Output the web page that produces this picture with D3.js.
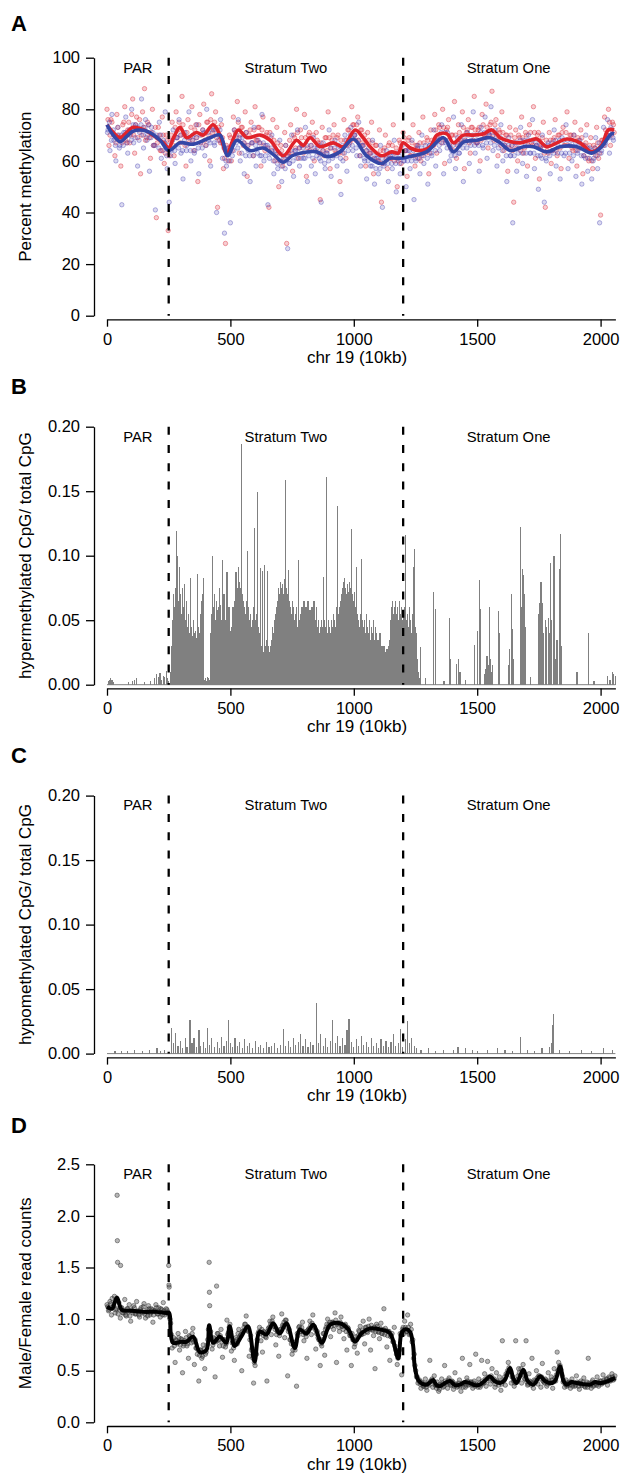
<!DOCTYPE html>
<html><head><meta charset="utf-8">
<script src="https://cdn.jsdelivr.net/npm/d3@7"></script>
<style>body{margin:0;background:#fff}svg{display:block}text{font-family:"Liberation Sans",Arial,sans-serif}</style>
</head><body><svg id="c" width="622" height="1475"></svg>
<script>
// ---------- shared ----------
const xTicks=[0,500,1000,1500,2000];
const boundaries=[250,1200];
const regionNames=["PAR","Stratum Two","Stratum One"];
const regionBounds=[[0,250],[250,1200],[1200,2055]];
const xLabel="chr 19 (10kb)";
const panelLetters=["A","B","C","D"];
const yLabels=["Percent methylation","hypermethylated CpG/ total CpG","hypomethylated CpG/ total CpG","Male/Female read counts"];
const yTicksA=[0,20,40,60,80,100];
const yTicksBC=[0,0.05,0.1,0.15,0.2];
const yTicksD=[0,0.5,1,1.5,2,2.5];

// ---------- panel A ----------
const redLine=[[0,74],[25,71],[53,69],[80,71],[105,73],[150,72],[200,69],[229,67],[250,65],[270,69],[296,73],[323,69],[363,71],[390,70],[430,74],[458,70],[485,63],[532,72],[567,69],[621,70],[661,68],[714,62],[768,68],[795,66],[823,69],[863,65.5],[917,67],[957,65.5],[1005,72],[1038,69],[1066,65.5],[1113,62],[1154,63.5],[1180,63],[1200,67],[1229,65],[1268,64],[1310,65.5],[1337,70],[1377,70.5],[1404,67],[1444,70],[1485,70],[1526,70.5],[1559,72],[1593,69],[1634,67.5],[1674,67],[1714,68],[1742,68.5],[1782,65.5],[1823,67],[1863,68.5],[1917,67],[1964,63.5],[2004,66],[2031,72],[2055,72]];
const blueLine=[[0,74],[25,70],[53,67.5],[80,69.5],[105,71.5],[162,71.5],[215,68],[250,64],[296,67],[350,66.5],[417,69],[458,70],[489,62],[526,68],[579,64],[633,65],[680,62],[714,59.5],[750,62],[782,63],[850,63.5],[890,61.6],[944,63.5],[998,68.5],[1052,62],[1113,59],[1146,61],[1187,61],[1241,62],[1295,63.5],[1363,69],[1404,63.5],[1444,67.3],[1498,68],[1552,69],[1593,67],[1634,64],[1688,65.5],[1728,65.5],[1782,63.5],[1836,65.5],[1904,65.5],[1964,63],[2004,65.5],[2044,70.5],[2055,70.5]];
const redPoints=[[0,80],[8,66],[16,76],[24,71],[32,62],[40,78],[48,70],[56,58],[64,74],[72,81],[80,67],[88,75],[96,70],[104,84],[112,63],[120,77],[128,72],[136,55],[144,79],[152,88],[160,69],[168,74],[176,61],[184,80],[192,66],[200,38],[208,73],[216,64],[224,77],[232,59],[240,70],[248,33],[256,68],[264,75],[272,62],[280,79],[288,72],[296,67],[304,85],[312,70],[320,58],[328,76],[336,69],[344,81],[352,64],[360,74],[368,52],[376,78],[384,70],[392,82],[400,66],[408,75],[416,60],[424,86],[432,72],[440,79],[448,42],[456,68],[464,74],[472,57],[480,28],[488,65],[496,70],[504,60],[512,77],[520,71],[528,83],[536,63],[544,73],[552,66],[560,79],[568,54],[576,70],[584,75],[592,62],[600,81],[608,68],[616,73],[624,58],[632,77],[640,64],[648,71],[656,42],[664,69],[672,76],[680,60],[688,73],[696,50],[704,66],[712,58],[720,71],[728,28],[736,63],[744,74],[752,56],[760,69],[768,80],[776,61],[784,72],[792,66],[800,78],[808,54],[816,70],[824,64],[832,75],[840,60],[848,71],[856,67],[864,45],[872,73],[880,62],[888,69],[896,79],[904,57],[912,68],[920,74],[928,63],[936,70],[944,52],[952,65],[960,76],[968,61],[976,72],[984,67],[992,81],[1000,74],[1008,68],[1016,77],[1024,62],[1032,72],[1040,66],[1048,58],[1056,71],[1064,63],[1072,75],[1080,55],[1088,66],[1096,60],[1104,72],[1112,44],[1120,64],[1128,70],[1136,57],[1144,67],[1152,61],[1160,74],[1168,63],[1176,50],[1184,68],[1192,59],[1200,71],[1208,64],[1216,54],[1224,69],[1232,62],[1240,74],[1248,58],[1256,66],[1264,71],[1272,60],[1280,77],[1288,64],[1296,69],[1304,55],[1312,72],[1320,66],[1328,78],[1336,63],[1344,74],[1352,69],[1360,80],[1368,59],[1376,72],[1384,76],[1392,65],[1400,70],[1408,83],[1416,61],[1424,74],[1432,68],[1440,79],[1448,57],[1456,71],[1464,76],[1472,63],[1480,73],[1488,85],[1496,67],[1504,72],[1512,60],[1520,78],[1528,70],[1536,82],[1544,65],[1552,74],[1560,87],[1568,68],[1576,76],[1584,62],[1592,71],[1600,79],[1608,64],[1616,70],[1624,56],[1632,73],[1640,66],[1648,44],[1656,72],[1664,60],[1672,69],[1680,77],[1688,63],[1696,71],[1704,58],[1712,74],[1720,67],[1728,81],[1736,61],[1744,70],[1752,53],[1760,66],[1768,75],[1776,42],[1784,64],[1792,71],[1800,59],[1808,68],[1816,76],[1824,62],[1832,70],[1840,57],[1848,73],[1856,66],[1864,79],[1872,61],[1880,70],[1888,64],[1896,75],[1904,58],[1912,68],[1920,72],[1928,55],[1936,66],[1944,74],[1952,60],[1960,69],[1968,57],[1976,65],[1984,73],[1992,61],[2000,39],[2008,68],[2016,77],[2024,70],[2032,80],[2040,66],[2048,75],[2055,71]];
const redCore=[[4,76],[12,70],[20,75],[28,70],[36,67],[44,73],[52,69],[60,67],[68,75],[76,68],[84,72],[92,67],[100,78],[108,70],[116,74],[124,69],[132,76],[140,70],[148,73],[156,68],[164,75],[172,69],[180,71],[188,66],[196,73],[204,67],[212,70],[220,64],[228,70],[236,63],[244,68],[252,62],[260,70],[268,66],[276,73],[284,69],[292,75],[300,70],[308,74],[316,66],[324,71],[332,67],[340,73],[348,68],[356,72],[364,69],[372,74],[380,67],[388,72],[396,68],[404,75],[412,70],[420,76],[428,71],[436,75],[444,69],[452,73],[460,67],[468,69],[476,61],[484,66],[492,60],[500,69],[508,64],[516,72],[524,69],[532,75],[540,70],[548,73],[556,67],[564,71],[572,66],[580,72],[588,67],[596,72],[604,68],[612,73],[620,67],[628,72],[636,66],[644,70],[652,65],[660,71],[668,64],[676,68],[684,62],[692,67],[700,60],[708,64],[716,60],[724,66],[732,62],[740,68],[748,63],[756,70],[764,65],[772,71],[780,65],[788,69],[796,63],[804,69],[812,65],[820,71],[828,66],[836,70],[844,64],[852,68],[860,63],[868,67],[876,64],[884,69],[892,64],[900,69],[908,65],[916,70],[924,64],[932,69],[940,63],[948,68],[956,63],[964,68],[972,66],[980,72],[988,68],[996,74],[1004,70],[1012,74],[1020,68],[1028,72],[1036,67],[1044,70],[1052,64],[1060,68],[1068,63],[1076,67],[1084,61],[1092,66],[1100,60],[1108,64],[1116,59],[1124,65],[1132,61],[1140,66],[1148,61],[1156,66],[1164,60],[1172,65],[1180,60],[1188,67],[1196,64],[1204,69],[1212,64],[1220,68],[1228,62],[1236,67],[1244,62],[1252,66],[1260,61],[1268,67],[1276,62],[1284,67],[1292,63],[1300,68],[1308,63],[1316,68],[1324,66],[1332,72],[1340,68],[1348,73],[1356,67],[1364,73],[1372,68],[1380,73],[1388,66],[1396,70],[1404,64],[1412,70],[1420,66],[1428,71],[1436,67],[1444,73],[1452,68],[1460,72],[1468,67],[1476,73],[1484,68],[1492,72],[1500,67],[1508,73],[1516,68],[1524,74],[1532,69],[1540,73],[1548,70],[1556,75],[1564,70],[1572,74],[1580,68],[1588,72],[1596,66],[1604,71],[1612,66],[1620,70],[1628,65],[1636,70],[1644,64],[1652,69],[1660,65],[1668,70],[1676,64],[1684,69],[1692,65],[1700,70],[1708,66],[1716,71],[1724,66],[1732,71],[1740,66],[1748,71],[1756,65],[1764,69],[1772,63],[1780,68],[1788,63],[1796,68],[1804,64],[1812,69],[1820,64],[1828,70],[1836,65],[1844,71],[1852,66],[1860,71],[1868,66],[1876,70],[1884,65],[1892,70],[1900,64],[1908,69],[1916,65],[1924,69],[1932,62],[1940,67],[1948,61],[1956,66],[1964,60],[1972,66],[1980,62],[1988,67],[1996,63],[2004,68],[2012,66],[2020,72],[2028,70],[2036,75],[2044,70],[2052,74]];
const bluePoints=[[4,72],[12,64],[20,78],[28,68],[36,60],[44,73],[52,66],[60,43],[68,71],[76,77],[84,63],[92,70],[100,80],[108,67],[116,74],[124,58],[132,71],[140,84],[148,65],[156,76],[164,70],[172,56],[180,73],[188,66],[196,41],[204,69],[212,75],[220,61],[228,68],[236,79],[244,57],[252,44],[260,64],[268,72],[276,59],[284,69],[292,76],[300,63],[308,53],[316,71],[324,66],[332,79],[340,60],[348,70],[356,64],[364,74],[372,55],[380,67],[388,72],[396,62],[404,80],[412,68],[420,58],[428,73],[436,66],[444,40],[452,70],[460,76],[468,61],[476,32],[484,58],[492,65],[500,36],[508,62],[516,72],[524,67],[532,76],[540,60],[548,69],[556,55],[564,71],[572,64],[580,52],[588,67],[596,73],[604,58],[612,68],[620,62],[628,78],[636,60],[644,66],[652,43],[660,63],[668,70],[676,55],[684,64],[692,57],[700,68],[708,52],[716,61],[724,66],[732,26],[740,59],[748,70],[756,54],[764,64],[772,72],[780,58],[788,66],[796,61],[804,73],[812,52],[820,64],[828,58],[836,69],[844,55],[852,65],[860,61],[868,44],[876,67],[884,57],[892,63],[900,72],[908,54],[916,62],[924,68],[932,58],[940,64],[948,47],[956,60],[964,70],[972,56],[980,66],[988,73],[996,64],[1004,70],[1012,62],[1020,75],[1028,58],[1036,66],[1044,60],[1052,53],[1060,65],[1068,58],[1076,68],[1084,51],[1092,61],[1100,55],[1108,66],[1116,42],[1124,59],[1132,64],[1140,52],[1148,62],[1156,57],[1164,68],[1172,48],[1180,61],[1188,55],[1196,66],[1204,60],[1212,50],[1220,64],[1228,57],[1236,68],[1244,45],[1252,60],[1260,66],[1268,55],[1276,70],[1284,59],[1292,64],[1300,51],[1308,66],[1316,62],[1324,72],[1332,58],[1340,68],[1348,64],[1356,74],[1364,55],[1372,67],[1380,71],[1388,60],[1396,64],[1404,77],[1412,57],[1420,69],[1428,63],[1436,74],[1444,52],[1452,67],[1460,71],[1468,59],[1476,68],[1484,79],[1492,63],[1500,67],[1508,56],[1516,73],[1524,65],[1532,77],[1540,61],[1548,70],[1556,81],[1564,64],[1572,72],[1580,58],[1588,67],[1596,74],[1604,60],[1612,66],[1620,52],[1628,69],[1636,62],[1644,36],[1652,67],[1660,56],[1668,65],[1676,73],[1684,59],[1692,67],[1700,54],[1708,70],[1716,63],[1724,76],[1732,57],[1740,66],[1748,49],[1756,62],[1764,70],[1772,44],[1780,60],[1788,67],[1796,55],[1804,64],[1812,72],[1820,58],[1828,66],[1836,53],[1844,69],[1852,62],[1860,74],[1868,57],[1876,66],[1884,60],[1892,70],[1900,54],[1908,64],[1916,68],[1924,51],[1932,62],[1940,70],[1948,56],[1956,65],[1964,53],[1972,61],[1980,69],[1988,57],[1996,36],[2004,64],[2012,73],[2020,67],[2028,76],[2036,63],[2044,72],[2052,68]];
const blueCore=[[2,71],[10,75],[18,68],[26,72],[34,66],[42,70],[50,65],[58,70],[66,66],[74,71],[82,67],[90,72],[98,68],[106,74],[114,69],[122,73],[130,68],[138,74],[146,70],[154,73],[162,68],[170,74],[178,69],[186,71],[194,66],[202,70],[210,65],[218,70],[226,64],[234,67],[242,62],[250,66],[258,62],[266,68],[274,64],[282,69],[290,65],[298,70],[306,64],[314,68],[322,64],[330,69],[338,64],[346,68],[354,63],[362,69],[370,65],[378,70],[386,65],[394,71],[402,66],[410,71],[418,67],[426,72],[434,67],[442,72],[450,68],[458,72],[466,67],[474,65],[482,60],[490,64],[498,60],[506,66],[514,64],[522,70],[530,65],[538,69],[546,63],[554,67],[562,62],[570,66],[578,62],[586,67],[594,62],[602,66],[610,63],[618,67],[626,62],[634,67],[642,62],[650,66],[658,61],[666,65],[674,60],[682,64],[690,59],[698,63],[706,58],[714,62],[722,57],[730,62],[738,59],[746,64],[754,60],[762,64],[770,61],[778,65],[786,61],[794,65],[802,61],[810,66],[818,62],[826,66],[834,61],[842,65],[850,62],[858,66],[866,60],[874,64],[882,59],[890,63],[898,60],[906,65],[914,61],[922,65],[930,62],[938,66],[946,61],[954,66],[962,63],[970,68],[978,64],[986,70],[994,66],[1002,70],[1010,65],[1018,68],[1026,62],[1034,66],[1042,61],[1050,64],[1058,60],[1066,63],[1074,58],[1082,62],[1090,57],[1098,61],[1106,57],[1114,61],[1122,58],[1130,62],[1138,59],[1146,63],[1154,59],[1162,63],[1170,59],[1178,63],[1186,59],[1194,63],[1202,60],[1210,64],[1218,60],[1226,64],[1234,60],[1242,64],[1250,61],[1258,65],[1266,61],[1274,65],[1282,62],[1290,66],[1298,61],[1306,66],[1314,63],[1322,67],[1330,64],[1338,69],[1346,66],[1354,71],[1362,67],[1370,71],[1378,65],[1386,68],[1394,62],[1402,66],[1410,62],[1418,67],[1426,63],[1434,68],[1442,65],[1450,69],[1458,65],[1466,70],[1474,66],[1482,70],[1490,66],[1498,70],[1506,66],[1514,71],[1522,66],[1530,71],[1538,67],[1546,71],[1554,67],[1562,71],[1570,66],[1578,70],[1586,65],[1594,69],[1602,64],[1610,68],[1618,62],[1626,66],[1634,62],[1642,66],[1650,62],[1658,67],[1666,63],[1674,68],[1682,63],[1690,68],[1698,63],[1706,68],[1714,63],[1722,68],[1730,63],[1738,67],[1746,62],[1754,66],[1762,61],[1770,66],[1778,61],[1786,66],[1794,62],[1802,67],[1810,63],[1818,68],[1826,63],[1834,68],[1842,63],[1850,68],[1858,63],[1866,68],[1874,63],[1882,68],[1890,62],[1898,67],[1906,63],[1914,67],[1922,62],[1930,66],[1938,61],[1946,65],[1954,61],[1962,64],[1970,60],[1978,65],[1986,62],[1994,67],[2002,63],[2010,67],[2018,66],[2026,70],[2034,69],[2042,73],[2050,69]];

// ---------- panel B (hypermethylated fraction per bin) ----------
const hyperBars=[[3,0.003],[8,0.004],[13,0.005],[18,0.004],[24,0.002],[85,0.002],[100,0.003],[108,0.004],[118,0.005],[150,0.002],[175,0.003],[190,0.005],[198,0.008],[206,0.006],[212,0.009],[220,0.004],[226,0.007],[232,0.006],[238,0.011],[244,0.005],[248,0.003],
[256,0.01],[260,0.03],[264,0.05],[268,0.07],[272,0.06],[276,0.075],[280,0.119],[284,0.1],[288,0.065],[292,0.091],[296,0.07],[300,0.055],[304,0.075],[308,0.06],[312,0.078],[316,0.05],[320,0.065],[324,0.045],[328,0.055],[332,0.04],[336,0.0825],[340,0.045],[344,0.038],[348,0.05],[352,0.04],[356,0.042],[360,0.036],[364,0.086],[368,0.045],[372,0.04],[376,0.055],[380,0.065],[384,0.07],[388,0.083],[392,0.004],[396,0.005],[400,0.003],[404,0.006],[408,0.005],[412,0.004],[416,0.04],[420,0.055],[424,0.0999],[428,0.06],[432,0.07],[436,0.05],[440,0.065],[444,0.058],[448,0.06],[452,0.075],[456,0.062],[460,0.05],[464,0.097],[468,0.06],[472,0.07],[476,0.045],[480,0.05],[484,0.087],[488,0.055],[492,0.06],[496,0.042],[500,0.03],[504,0.045],[508,0.06],[512,0.05],[516,0.065],[520,0.087],[524,0.07],[528,0.075],[532,0.091],[536,0.08],[540,0.075],[544,0.1866],[548,0.07],[552,0.065],[556,0.06],[560,0.055],[564,0.065],[568,0.1035],[572,0.06],[576,0.05],[580,0.055],[584,0.045],[588,0.05],[592,0.06],[596,0.1216],[600,0.05],[604,0.055],[608,0.149],[612,0.045],[616,0.04],[620,0.0905],[624,0.03],[628,0.088],[632,0.025],[636,0.093],[640,0.03],[644,0.035],[648,0.088],[652,0.03],[656,0.025],[660,0.03],[664,0.035],[668,0.045],[672,0.04],[676,0.05],[680,0.055],[684,0.06],[688,0.065],[692,0.075],[696,0.07],[700,0.08],[704,0.075],[708,0.078],[712,0.07],[716,0.082],[720,0.159],[724,0.075],[728,0.07],[732,0.089],[736,0.065],[740,0.06],[744,0.055],[748,0.065],[752,0.06],[756,0.05],[760,0.055],[764,0.06],[768,0.045],[772,0.097],[776,0.05],[780,0.055],[784,0.045],[788,0.06],[792,0.05],[796,0.065],[800,0.055],[804,0.06],[808,0.05],[812,0.065],[816,0.055],[820,0.058],[824,0.05],[828,0.06],[832,0.045],[836,0.065],[840,0.055],[844,0.05],[848,0.06],[852,0.045],[856,0.05],[860,0.04],[864,0.045],[868,0.05],[872,0.045],[876,0.0836],[880,0.05],[884,0.045],[888,0.161],[892,0.04],[896,0.05],[900,0.045],[904,0.04],[908,0.05],[912,0.045],[916,0.055],[920,0.05],[924,0.045],[928,0.06],[932,0.1385],[936,0.055],[940,0.06],[944,0.065],[948,0.07],[952,0.075],[956,0.08],[960,0.083],[964,0.075],[968,0.07],[972,0.078],[976,0.072],[980,0.08],[984,0.075],[988,0.1205],[992,0.07],[996,0.065],[1000,0.072],[1004,0.06],[1008,0.091],[1012,0.055],[1016,0.05],[1020,0.045],[1024,0.055],[1028,0.0975],[1032,0.05],[1036,0.045],[1040,0.05],[1044,0.04],[1048,0.055],[1052,0.045],[1056,0.04],[1060,0.05],[1064,0.035],[1068,0.045],[1072,0.04],[1076,0.05],[1080,0.035],[1084,0.045],[1088,0.04],[1092,0.03],[1096,0.035],[1100,0.03],[1104,0.04],[1108,0.025],[1112,0.03],[1116,0.022],[1120,0.03],[1124,0.025],[1128,0.02],[1132,0.028],[1136,0.022],[1140,0.03],[1144,0.035],[1148,0.05],[1152,0.06],[1156,0.065],[1160,0.055],[1164,0.06],[1168,0.065],[1172,0.055],[1176,0.06],[1180,0.05],[1184,0.065],[1188,0.055],[1192,0.06],[1196,0.05],[1200,0.055],[1204,0.06],[1208,0.116],[1212,0.05],[1216,0.055],[1220,0.045],[1224,0.06],[1228,0.05],[1232,0.04],[1236,0.055],[1240,0.091],[1244,0.105],[1248,0.045],[1252,0.04],[1256,0.02],[1260,0.01],[1264,0.005],[1268,0.029],
[1288,0.005],[1322,0.072],[1329,0.059],[1363,0.003],[1386,0.052],[1390,0.02],[1414,0.016],[1422,0.02],[1428,0.01],[1449,0.004],[1488,0.031],[1499,0.042],[1506,0.081],[1510,0.059],[1526,0.008],[1532,0.012],[1537,0.022],[1541,0.015],[1547,0.06],[1552,0.02],[1556,0.01],[1560,0.015],[1583,0.057],[1589,0.04],[1625,0.015],[1629,0.028],[1637,0.07],[1642,0.043],[1646,0.02],[1672,0.122],[1676,0.06],[1680,0.09],[1683,0.085],[1687,0.07],[1690,0.03],[1694,0.045],[1714,0.006],[1748,0.055],[1752,0.063],[1756,0.08],[1760,0.063],[1764,0.04],[1775,0.05],[1780,0.045],[1786,0.052],[1791,0.04],[1796,0.0945],[1800,0.05],[1809,0.1],[1815,0.02],[1821,0.035],[1830,0.09],[1834,0.1167],[1839,0.03],[1902,0.01],[1948,0.04],[1950,0.027],[1971,0.003],[2025,0.007],[2036,0.004],[2045,0.01],[2050,0.008],[2059,0.007]];

// ---------- panel C (hypomethylated fraction per bin) ----------
const hypoBars=[[30,0.002],[55,0.002],[80,0.002],[110,0.003],[140,0.002],[170,0.003],[200,0.004],[215,0.002],[232,0.003],
[258,0.02],[266,0.008],[275,0.016],[285,0.006],[296,0.01],[305,0.004],[315,0.012],[322,0.005],[334,0.026],[342,0.008],[350,0.012],[360,0.005],[370,0.018],[378,0.006],[388,0.009],[396,0.004],[405,0.02],[414,0.007],[422,0.012],[432,0.005],[444,0.009],[452,0.004],[462,0.013],[472,0.006],[482,0.01],[490,0.026],[498,0.008],[506,0.005],[516,0.012],[526,0.006],[536,0.009],[546,0.004],[556,0.011],[566,0.006],[576,0.008],[586,0.004],[598,0.01],[610,0.005],[620,0.007],[632,0.004],[644,0.009],[654,0.005],[664,0.006],[676,0.008],[688,0.004],[700,0.007],[712,0.019],[722,0.006],[732,0.01],[742,0.005],[752,0.012],[760,0.007],[772,0.009],[782,0.015],[792,0.006],[802,0.011],[812,0.005],[822,0.009],[832,0.007],[847,0.039],[856,0.008],[864,0.015],[874,0.006],[884,0.012],[892,0.005],[902,0.01],[912,0.026],[922,0.008],[932,0.014],[942,0.006],[952,0.012],[962,0.007],[970,0.018],[978,0.027],[988,0.009],[998,0.005],[1008,0.011],[1018,0.006],[1028,0.014],[1038,0.007],[1048,0.009],[1058,0.005],[1068,0.012],[1078,0.006],[1088,0.008],[1098,0.004],[1108,0.011],[1118,0.006],[1128,0.01],[1138,0.005],[1148,0.009],[1158,0.015],[1168,0.006],[1178,0.008],[1188,0.019],[1196,0.005],[1206,0.011],[1214,0.025],[1222,0.008],[1232,0.012],[1242,0.006],[1252,0.004],
[1270,0.003],[1300,0.004],[1330,0.002],[1360,0.003],[1400,0.003],[1420,0.005],[1450,0.004],[1480,0.003],[1500,0.002],[1540,0.003],[1580,0.004],[1610,0.003],[1640,0.002],[1673,0.013],[1700,0.003],[1730,0.002],[1760,0.004],[1790,0.005],[1800,0.008],[1804,0.022],[1808,0.031],[1830,0.003],[1870,0.002],[1920,0.003],[1960,0.002],[2010,0.004],[2045,0.003]];

// ---------- panel D (male/female read count ratio) ----------
const ratioLine=[[0,1.12],[20,1.1],[40,1.21],[60,1.09],[100,1.08],[150,1.07],[200,1.07],[240,1.06],[252,1.06],[258,0.87],[268,0.77],[300,0.78],[322,0.78],[349,0.83],[376,0.68],[403,0.7],[414,0.94],[430,0.77],[457,0.83],[484,0.77],[497,0.93],[517,0.74],[544,0.83],[571,0.93],[598,0.59],[619,0.88],[646,0.85],[673,0.96],[700,0.86],[727,0.96],[761,0.72],[781,0.9],[808,0.86],[836,0.945],[870,0.77],[904,0.945],[944,0.96],[978,0.9],[1005,0.78],[1032,0.865],[1066,0.91],[1106,0.9],[1146,0.865],[1180,0.62],[1193,0.865],[1207,0.9],[1227,0.88],[1240,0.75],[1247,0.54],[1261,0.41],[1280,0.37],[1295,0.365],[1310,0.39],[1322,0.41],[1335,0.36],[1349,0.35],[1370,0.38],[1390,0.4],[1410,0.36],[1430,0.365],[1450,0.39],[1471,0.38],[1490,0.36],[1511,0.365],[1530,0.4],[1552,0.445],[1570,0.4],[1592,0.38],[1612,0.41],[1633,0.525],[1647,0.42],[1660,0.38],[1687,0.51],[1705,0.4],[1728,0.365],[1755,0.445],[1775,0.4],[1795,0.38],[1815,0.4],[1836,0.54],[1850,0.4],[1863,0.365],[1883,0.39],[1903,0.38],[1930,0.37],[1957,0.365],[1978,0.39],[1998,0.38],[2030,0.4],[2059,0.43]];
const ratioPoints=[[0,1.14],[6,1.08],[12,1.17],[18,1.04],[24,1.12],[30,1.22],[36,1.09],[41,2.2],[42,1.76],[43,1.55],[48,1.16],[54,1.01],[55,1.52],[60,1.11],[66,1.06],[72,1.19],[78,1.03],[84,1.1],[90,1.14],[96,0.98],[102,1.08],[108,1.13],[114,1.05],[120,1.17],[126,1.07],[132,1.02],[138,1.11],[144,1.06],[150,1.15],[156,1.01],[162,1.09],[168,1.13],[174,1.04],[180,1.1],[186,0.97],[192,1.08],[198,1.14],[204,1.05],[210,1.11],[216,1.02],[222,1.09],[228,1.16],[234,1.04],[240,1.1],[246,1.07],[250,1.52],[251,1.33],[252,1.31],
[258,0.96],[264,0.72],[270,0.82],[276,0.58],[282,0.79],[288,0.86],[294,0.7],[300,0.81],[306,0.48],[312,0.76],[318,0.88],[324,0.74],[330,0.62],[336,0.83],[342,0.77],[348,0.91],[354,0.56],[360,0.72],[366,0.66],[372,0.4],[378,0.7],[384,0.62],[390,0.75],[396,0.52],[402,0.68],[408,0.8],[414,1.55],[415,1.26],[416,1.13],[420,0.88],[426,0.71],[432,0.82],[438,0.44],[444,1.32],[446,0.79],[450,0.86],[456,0.74],[462,0.9],[468,0.63],[474,0.8],[480,0.73],[486,0.99],[492,0.87],[498,0.95],[504,0.69],[510,0.78],[516,0.6],[522,0.82],[528,0.76],[534,0.9],[540,0.84],[546,0.5],[552,0.88],[558,0.95],[564,1.03],[570,0.89],[576,0.64],[582,0.84],[588,0.72],[594,0.38],[600,0.55],[606,0.66],[612,0.86],[618,0.92],[624,0.79],[630,0.68],[636,0.88],[642,0.83],[648,0.4],[654,0.91],[660,0.98],[666,0.85],[672,1.02],[678,0.93],[684,0.75],[690,0.88],[696,0.64],[702,0.9],[708,1.05],[714,0.93],[720,0.82],[726,0.99],[732,0.45],[738,0.9],[744,0.8],[750,0.66],[756,0.75],[762,0.7],[768,0.35],[774,0.84],[780,0.93],[786,0.88],[792,0.97],[798,0.79],[804,0.86],[810,0.62],[816,0.9],[822,0.98],[828,0.85],[834,1.04],[840,0.93],[846,0.71],[852,0.88],[858,0.8],[864,0.55],[870,0.74],[876,0.86],[882,0.65],[888,0.92],[894,1],[900,0.95],[906,0.83],[912,0.97],[918,0.9],[924,1.06],[930,0.58],[936,0.96],[942,0.88],[948,1.02],[954,0.93],[960,0.81],[966,0.95],[972,0.7],[978,0.91],[984,0.84],[990,0.55],[996,0.8],[1002,0.73],[1008,0.83],[1014,0.67],[1020,0.89],[1026,0.93],[1032,0.85],[1038,0.98],[1044,0.76],[1050,0.92],[1056,0.87],[1062,1],[1068,0.7],[1074,0.9],[1080,0.84],[1086,0.52],[1092,0.95],[1098,0.88],[1104,0.81],[1110,0.96],[1116,0.86],[1122,1.1],[1128,0.91],[1134,0.73],[1140,0.88],[1146,0.6],[1152,0.84],[1158,0.78],[1164,0.92],[1170,0.7],[1176,0.56],[1182,0.66],[1188,0.86],[1194,0.46],[1200,0.92],[1206,0.98],[1212,0.88],[1218,1.04],[1224,0.85],[1230,0.95],[1236,0.78],[1242,0.62],[1248,0.55],
[1254,0.44],[1260,0.38],[1266,0.41],[1272,0.33],[1278,0.38],[1284,0.35],[1290,0.42],[1296,0.31],[1302,0.37],[1308,0.6],[1314,0.4],[1320,0.34],[1326,0.45],[1332,0.36],[1338,0.39],[1344,0.3],[1350,0.37],[1356,0.42],[1362,0.34],[1368,0.55],[1374,0.38],[1380,0.33],[1386,0.43],[1392,0.36],[1398,0.4],[1404,0.32],[1410,0.48],[1416,0.37],[1422,0.35],[1428,0.41],[1434,0.3],[1440,0.62],[1446,0.38],[1452,0.34],[1458,0.43],[1464,0.36],[1470,0.56],[1476,0.39],[1482,0.33],[1488,0.4],[1494,0.66],[1500,0.36],[1506,0.42],[1512,0.34],[1518,0.6],[1524,0.38],[1530,0.47],[1536,0.35],[1542,0.59],[1548,0.43],[1554,0.37],[1560,0.52],[1566,0.41],[1572,0.34],[1578,0.48],[1584,0.39],[1590,0.44],[1596,0.31],[1602,0.79],[1608,0.4],[1614,0.36],[1620,0.46],[1626,0.58],[1632,0.49],[1638,0.38],[1644,0.44],[1650,0.35],[1656,0.79],[1662,0.41],[1668,0.52],[1674,0.45],[1680,0.38],[1686,0.56],[1692,0.42],[1698,0.79],[1704,0.36],[1710,0.47],[1716,0.39],[1722,0.62],[1728,0.33],[1734,0.4],[1740,0.5],[1746,0.37],[1752,0.45],[1758,0.34],[1764,0.57],[1770,0.39],[1776,0.42],[1782,0.35],[1788,0.48],[1794,0.38],[1800,0.44],[1806,0.33],[1812,0.52],[1818,0.4],[1824,0.68],[1830,0.58],[1836,0.55],[1842,0.47],[1848,0.39],[1854,0.34],[1860,0.41],[1866,0.36],[1872,0.39],[1878,0.33],[1884,0.42],[1890,0.37],[1896,0.35],[1902,0.45],[1908,0.38],[1914,0.32],[1920,0.4],[1926,0.36],[1932,0.43],[1938,0.34],[1944,0.39],[1950,0.62],[1956,0.37],[1962,0.33],[1968,0.41],[1974,0.36],[1980,0.38],[1986,0.44],[1992,0.35],[1998,0.4],[2004,0.37],[2010,0.46],[2016,0.39],[2022,0.42],[2028,0.36],[2034,0.44],[2040,0.4],[2046,0.47],[2052,0.41],[2058,0.45]];
const ratioCore=[[3,1.12],[9,1.09],[15,1.15],[21,1.2],[27,1.13],[33,1.06],[39,1.1],[45,1.05],[51,1.09],[57,1.11],[63,1.06],[69,1.08],[75,1.04],[81,1.1],[87,1.07],[93,1.03],[99,1.09],[105,1.06],[111,1.11],[117,1.05],[123,1.08],[129,1.04],[135,1.09],[141,1.07],[147,1.12],[153,1.05],[159,1.07],[165,1.03],[171,1.1],[177,1.06],[183,1.09],[189,1.04],[195,1.08],[201,1.11],[207,1.05],[213,1.07],[219,1.1],[225,1.04],[231,1.08],[237,1.06],[243,1.09],[249,1.05],
[255,1],[261,0.85],[267,0.78],[273,0.74],[279,0.8],[285,0.76],[291,0.82],[297,0.75],[303,0.8],[309,0.74],[315,0.79],[321,0.82],[327,0.76],[333,0.84],[339,0.8],[345,0.86],[351,0.78],[357,0.8],[363,0.72],[369,0.7],[375,0.65],[381,0.7],[387,0.64],[393,0.71],[399,0.66],[405,0.75],[411,0.9],[417,0.88],[423,0.8],[429,0.75],[435,0.81],[441,0.78],[447,0.86],[453,0.8],[459,0.84],[465,0.78],[471,0.74],[477,0.8],[483,0.76],[489,0.85],[495,0.92],[501,0.88],[507,0.77],[513,0.72],[519,0.78],[525,0.8],[531,0.86],[537,0.82],[543,0.85],[549,0.88],[555,0.92],[561,0.95],[567,0.9],[573,0.88],[579,0.8],[585,0.7],[591,0.62],[597,0.58],[603,0.66],[609,0.8],[615,0.88],[621,0.86],[627,0.9],[633,0.84],[639,0.87],[645,0.82],[651,0.88],[657,0.92],[663,0.95],[669,0.98],[675,0.93],[681,0.9],[687,0.85],[693,0.88],[699,0.84],[705,0.9],[711,0.94],[717,0.97],[723,0.99],[729,0.92],[735,0.88],[741,0.8],[747,0.76],[753,0.7],[759,0.74],[765,0.78],[771,0.86],[777,0.92],[783,0.88],[789,0.92],[795,0.85],[801,0.88],[807,0.83],[813,0.89],[819,0.91],[825,0.94],[831,0.96],[837,0.92],[843,0.9],[849,0.86],[855,0.82],[861,0.8],[867,0.76],[873,0.8],[879,0.86],[885,0.9],[891,0.95],[897,0.92],[903,0.97],[909,0.93],[915,0.97],[921,0.94],[927,0.99],[933,0.95],[939,0.92],[945,0.97],[951,0.93],[957,0.9],[963,0.94],[969,0.88],[975,0.92],[981,0.87],[987,0.84],[993,0.86],[999,0.8],[1005,0.76],[1011,0.8],[1017,0.84],[1023,0.88],[1029,0.85],[1035,0.89],[1041,0.86],[1047,0.92],[1053,0.88],[1059,0.93],[1065,0.9],[1071,0.94],[1077,0.89],[1083,0.92],[1089,0.88],[1095,0.93],[1101,0.87],[1107,0.91],[1113,0.86],[1119,0.9],[1125,0.85],[1131,0.89],[1137,0.84],[1143,0.88],[1149,0.83],[1155,0.86],[1161,0.78],[1167,0.74],[1173,0.66],[1179,0.62],[1185,0.7],[1191,0.84],[1197,0.9],[1203,0.86],[1209,0.92],[1215,0.88],[1221,0.92],[1227,0.86],[1233,0.9],[1239,0.8],[1245,0.66],
[1251,0.5],[1257,0.44],[1263,0.4],[1269,0.37],[1275,0.39],[1281,0.35],[1287,0.37],[1293,0.34],[1299,0.38],[1305,0.36],[1311,0.4],[1317,0.42],[1323,0.39],[1329,0.36],[1335,0.33],[1341,0.35],[1347,0.32],[1353,0.36],[1359,0.38],[1365,0.35],[1371,0.4],[1377,0.37],[1383,0.41],[1389,0.38],[1395,0.36],[1401,0.39],[1407,0.35],[1413,0.37],[1419,0.34],[1425,0.38],[1431,0.35],[1437,0.37],[1443,0.34],[1449,0.38],[1455,0.36],[1461,0.4],[1467,0.37],[1473,0.39],[1479,0.36],[1485,0.38],[1491,0.35],[1497,0.37],[1503,0.34],[1509,0.38],[1515,0.36],[1521,0.4],[1527,0.38],[1533,0.42],[1539,0.4],[1545,0.44],[1551,0.42],[1557,0.45],[1563,0.4],[1569,0.42],[1575,0.37],[1581,0.4],[1587,0.36],[1593,0.39],[1599,0.37],[1605,0.41],[1611,0.44],[1617,0.47],[1623,0.5],[1629,0.53],[1635,0.49],[1641,0.44],[1647,0.4],[1653,0.38],[1659,0.41],[1665,0.45],[1671,0.48],[1677,0.52],[1683,0.49],[1689,0.46],[1695,0.42],[1701,0.39],[1707,0.37],[1713,0.4],[1719,0.36],[1725,0.38],[1731,0.41],[1737,0.39],[1743,0.43],[1749,0.45],[1755,0.42],[1761,0.44],[1767,0.4],[1773,0.38],[1779,0.41],[1785,0.37],[1791,0.4],[1797,0.38],[1803,0.41],[1809,0.39],[1815,0.43],[1821,0.46],[1827,0.5],[1833,0.54],[1839,0.51],[1845,0.45],[1851,0.4],[1857,0.37],[1863,0.35],[1869,0.38],[1875,0.36],[1881,0.39],[1887,0.35],[1893,0.38],[1899,0.36],[1905,0.39],[1911,0.35],[1917,0.38],[1923,0.36],[1929,0.39],[1935,0.35],[1941,0.37],[1947,0.34],[1953,0.38],[1959,0.36],[1965,0.39],[1971,0.35],[1977,0.38],[1983,0.36],[1989,0.39],[1995,0.37],[2001,0.4],[2007,0.38],[2013,0.41],[2019,0.39],[2025,0.42],[2031,0.4],[2037,0.43],[2043,0.41],[2049,0.44],[2055,0.42]];

// ---------- drawing ----------
const svg=d3.select("#c");
const x=d3.scaleLinear().domain([0,2060]).range([107,615.4]);
const panelTop=[57.7,426.7,795.6,1164.3];
const PH=258;
const letterY=[31,394,763,1133];

function frame(i,yDomain,yTicks,fmt){
  const top=panelTop[i],bot=top+PH;
  const y=d3.scaleLinear().domain(yDomain).range([bot,top]);
  const g=svg.append("g");
  g.append("text").attr("x",11).attr("y",letterY[i]).attr("font-size",22).attr("font-weight","bold").text(panelLetters[i]);
  const ya=g.append("g").attr("transform","translate(94,0)")
    .call(d3.axisLeft(y).tickValues(yTicks).tickFormat(fmt).tickSize(8).tickSizeOuter(0).tickPadding(6));
  const xa=g.append("g").attr("transform",`translate(0,${bot+3.7})`)
    .call(d3.axisBottom(x).tickValues(xTicks).tickFormat(d3.format("d")).tickSize(7.3).tickSizeOuter(0).tickPadding(6.3));
  [ya,xa].forEach(a=>{
    a.selectAll("path,line").attr("stroke","#000").attr("stroke-width",1.3);
    a.selectAll("text").attr("font-size",16.5).attr("fill","#000").attr("font-family",'"Liberation Sans",Arial,sans-serif');
  });
  g.append("text").attr("x",357).attr("y",bot+47.5).attr("text-anchor","middle").attr("font-size",17).text(xLabel);
  g.append("text").attr("transform",`translate(31,${(top+bot)/2}) rotate(-90)`).attr("text-anchor","middle").attr("font-size",17).text(yLabels[i]);
  regionNames.forEach((n,k)=>{
    g.append("text").attr("x",x((regionBounds[k][0]+regionBounds[k][1])/2)).attr("y",top+14.8)
      .attr("text-anchor","middle").attr("font-size",14.8).text(n);
  });
  const layer=g.append("g");
  const over=g.append("g");
  boundaries.forEach(b=>{
    over.append("line").attr("x1",x(b)).attr("x2",x(b)).attr("y1",top).attr("y2",y(0))
      .attr("stroke","#000").attr("stroke-width",2.3).attr("stroke-dasharray","8,10.3");
  });
  return {layer,y,top,bot};
}

// Panel A
{
  const p=frame(0,[0,100],yTicksA,d3.format("d"));
  const pts=(data,stroke,fill)=>p.layer.append("g").selectAll("circle").data(data).join("circle")
    .attr("cx",d=>x(d[0])).attr("cy",d=>p.y(d[1])).attr("r",2.2)
    .attr("fill",fill).attr("stroke",stroke).attr("stroke-width",0.9);
  pts(redPoints.concat(redCore),"rgba(220,50,65,0.5)","rgba(220,50,65,0.24)");
  pts(bluePoints.concat(blueCore),"rgba(75,70,180,0.45)","rgba(75,70,180,0.2)");
  const ln=d3.line().x(d=>x(d[0])).y(d=>p.y(d[1])).curve(d3.curveCatmullRom.alpha(0.5));
  p.layer.append("path").datum(redLine).attr("d",ln).attr("fill","none").attr("stroke","#e0232b").attr("stroke-width",3.6);
  p.layer.append("path").datum(blueLine).attr("d",ln).attr("fill","none").attr("stroke","#3447a6").attr("stroke-width",3.6);
}
// Panels B, C
function barPanel(i,data){
  const p=frame(i,[0,0.2],yTicksBC,d3.format(".2f"));
  p.layer.append("line").attr("x1",x(0)).attr("x2",x(2060)).attr("y1",p.y(0)).attr("y2",p.y(0)).attr("stroke","#808080").attr("stroke-width",1);
  const w=x(4)-x(0);
  p.layer.append("g").attr("shape-rendering","crispEdges").selectAll("rect").data(data).join("rect")
    .attr("x",d=>x(d[0])).attr("width",Math.max(1,w+0.2)).attr("y",d=>p.y(d[1])).attr("height",d=>p.y(0)-p.y(d[1]))
    .attr("fill","#808080");
}
barPanel(1,hyperBars);
barPanel(2,hypoBars);
// Panel D
{
  const p=frame(3,[0,2.5],yTicksD,d3.format(".1f"));
  p.layer.append("g").selectAll("circle").data(ratioPoints.concat(ratioCore)).join("circle")
    .attr("cx",d=>x(d[0])).attr("cy",d=>p.y(d[1])).attr("r",2.2)
    .attr("fill","rgba(50,50,50,0.35)").attr("stroke","rgba(50,50,50,0.55)").attr("stroke-width",0.9);
  const ln=d3.line().x(d=>x(d[0])).y(d=>p.y(d[1])).curve(d3.curveCatmullRom.alpha(0.5));
  p.layer.append("path").datum(ratioLine).attr("d",ln).attr("fill","none").attr("stroke","#000").attr("stroke-width",4);
}
</script></body></html>
